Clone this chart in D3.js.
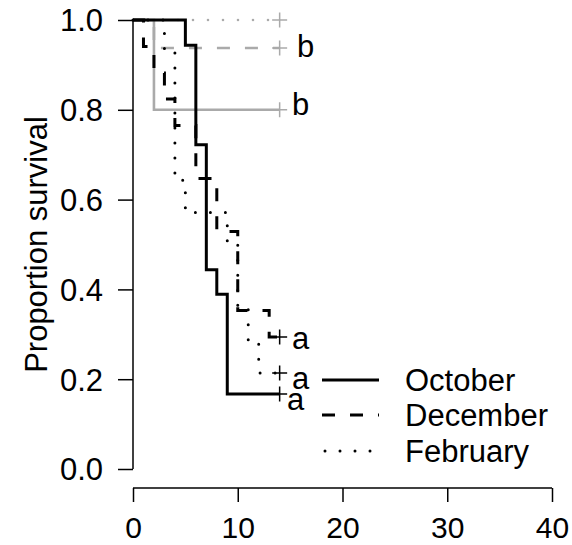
<!DOCTYPE html>
<html>
<head>
<meta charset="utf-8">
<script src="https://cdn.jsdelivr.net/npm/d3@7/dist/d3.min.js"></script>
<style>
  html, body { margin: 0; padding: 0; background: #ffffff; }
  svg { display: block; }
  text { font-family: "Liberation Sans", Arial, Helvetica, sans-serif; fill: #000; }
</style>
</head>
<body>
<svg id="chart" width="572" height="545"></svg>
<script>
// ---------- data ----------
const xTicks = [0, 10, 20, 30, 40];
const yTicks = [0.0, 0.2, 0.4, 0.6, 0.8, 1.0];
const yTickLabels = ["0.0", "0.2", "0.4", "0.6", "0.8", "1.0"];
const yTitle = "Proportion survival";

const legendLabels = ["October", "December", "February"];

// Black curves (Kaplan–Meier steps)
const octTimes = [0, 5, 6, 7, 8, 9];
const octSurv  = [1, 0.944, 0.722, 0.444, 0.389, 0.167];
const decTimes = [0, 1, 2, 3, 4, 6, 8, 10, 13];
const decSurv  = [1, 0.941, 0.882, 0.824, 0.765, 0.647, 0.529, 0.353, 0.294];
const febTimes = [0, 3, 4, 5, 9, 10, 11, 12];
const febSurv  = [1, 0.929, 0.643, 0.571, 0.5, 0.357, 0.286, 0.214];

// Grey curves
const gSolidTimes  = [0, 2];
const gSolidSurv   = [1, 0.8];
const gDashTimes   = [0, 2];
const gDashSurv    = [1, 0.9375];
const gDotTimes    = [0];
const gDotSurv     = [1];

const censorTime = 14;

// Letter annotations (data coordinates: time, survival at text baseline)
const annLetters = ["b", "b", "a", "a", "a"];
const annTime    = [15.65, 15.17, 15.17, 15.17, 14.7];
const annSurv    = [0.918, 0.788, 0.267, 0.178, 0.131];

// ---------- layout ----------
const svg = d3.select("#chart");
const x = d3.scaleLinear().domain([0, 40]).range([133, 552]);
const y = d3.scaleLinear().domain([0, 1]).range([469, 20]);
const xAxisY = 488;
const FONT = 31;
const BLACK = "#000000";
const GREY = "#aaaaaa";

const styles = {
  solid:  { dash: null,    cap: "butt" },
  dashed: { dash: "13,15", cap: "butt" },
  dotted: { dash: "0,15",  cap: "round" }
};

function stepPoints(times, surv, end) {
  const pts = [];
  for (let i = 0; i < times.length; i++) {
    if (i > 0) pts.push([times[i], surv[i - 1]]);
    pts.push([times[i], surv[i]]);
  }
  pts.push([end, surv[surv.length - 1]]);
  return pts;
}

const line = d3.line().x(d => x(d[0])).y(d => y(d[1]));

const curves = [
  { t: gDotTimes,   s: gDotSurv,   color: GREY,  style: "dotted", w: 2.6 },
  { t: gDashTimes,  s: gDashSurv,  color: GREY,  style: "dashed", w: 2.6 },
  { t: gSolidTimes, s: gSolidSurv, color: GREY,  style: "solid",  w: 2.6 },
  { t: febTimes,    s: febSurv,    color: BLACK, style: "dotted", w: 3 },
  { t: decTimes,    s: decSurv,    color: BLACK, style: "dashed", w: 3 },
  { t: octTimes,    s: octSurv,    color: BLACK, style: "solid",  w: 3 }
];

const gCurves = svg.append("g");
curves.forEach(c => {
  const pts = stepPoints(c.t, c.s, censorTime);
  gCurves.append("path")
    .attr("d", line(pts))
    .attr("fill", "none")
    .attr("stroke", c.color)
    .attr("stroke-width", c.w)
    .attr("stroke-dasharray", styles[c.style].dash)
    .attr("stroke-linecap", styles[c.style].cap)
    .attr("stroke-linejoin", "miter");
  // censor mark "+"
  const cx = x(censorTime), cy = y(c.s[c.s.length - 1]);
  const h = 7.5;
  gCurves.append("path")
    .attr("d", `M${cx - h},${cy}H${cx + h}M${cx},${cy - h}V${cy + h}`)
    .attr("stroke", c.color)
    .attr("stroke-width", 1.5)
    .attr("fill", "none");
});

// annotations
svg.append("g").selectAll("text")
  .data(annLetters)
  .join("text")
  .attr("x", (d, i) => x(annTime[i]))
  .attr("y", (d, i) => y(annSurv[i]))
  .attr("font-size", FONT)
  .text(d => d);

// ---------- axes ----------
const yAxis = d3.axisLeft(y).tickValues(yTicks).tickSize(15).tickFormat((d, i) => yTickLabels[i]);
const gy = svg.append("g").attr("transform", "translate(133,0)").call(yAxis);
gy.select(".domain").attr("d", `M0,${y(0)}V${y(1)}`).attr("stroke", "#000").attr("stroke-width", 1.5);
gy.selectAll(".tick line").attr("stroke", "#000").attr("stroke-width", 1.5);
gy.selectAll(".tick text")
  .attr("font-size", FONT).attr("font-family", "Liberation Sans, Arial, sans-serif")
  .attr("x", -30).attr("dy", "0.35em").attr("fill", "#000");

const xAxis = d3.axisBottom(x).tickValues(xTicks).tickSize(14).tickFormat(d3.format("d"));
const gx = svg.append("g").attr("transform", `translate(0,${xAxisY})`).call(xAxis);
gx.select(".domain").attr("d", `M${x(0)},0H${x(40)}`).attr("stroke", "#000").attr("stroke-width", 1.5);
gx.selectAll(".tick line").attr("stroke", "#000").attr("stroke-width", 1.5);
gx.selectAll(".tick text")
  .attr("font-size", 30).attr("font-family", "Liberation Sans, Arial, sans-serif")
  .attr("y", 29).attr("dy", "0.71em").attr("fill", "#000");

// y title
svg.append("text")
  .attr("transform", `translate(47,${(y(0) + y(1)) / 2}) rotate(-90)`)
  .attr("text-anchor", "middle")
  .attr("font-size", FONT)
  .text(yTitle);

// ---------- legend ----------
const legendStyles = ["solid", "dashed", "dotted"];
const legRowY = [380, 415, 451];
const leg = svg.append("g");
legendLabels.forEach((lab, i) => {
  const st = styles[legendStyles[i]];
  leg.append("line")
    .attr("x1", i === 2 ? 325 : 322).attr("x2", 379)
    .attr("y1", legRowY[i]).attr("y2", legRowY[i])
    .attr("stroke", BLACK).attr("stroke-width", 3)
    .attr("stroke-dasharray", st.dash)
    .attr("stroke-linecap", st.cap);
  leg.append("text")
    .attr("x", 405).attr("y", legRowY[i]).attr("dy", "0.35em")
    .attr("font-size", FONT)
    .text(lab);
});
</script>
</body>
</html>
